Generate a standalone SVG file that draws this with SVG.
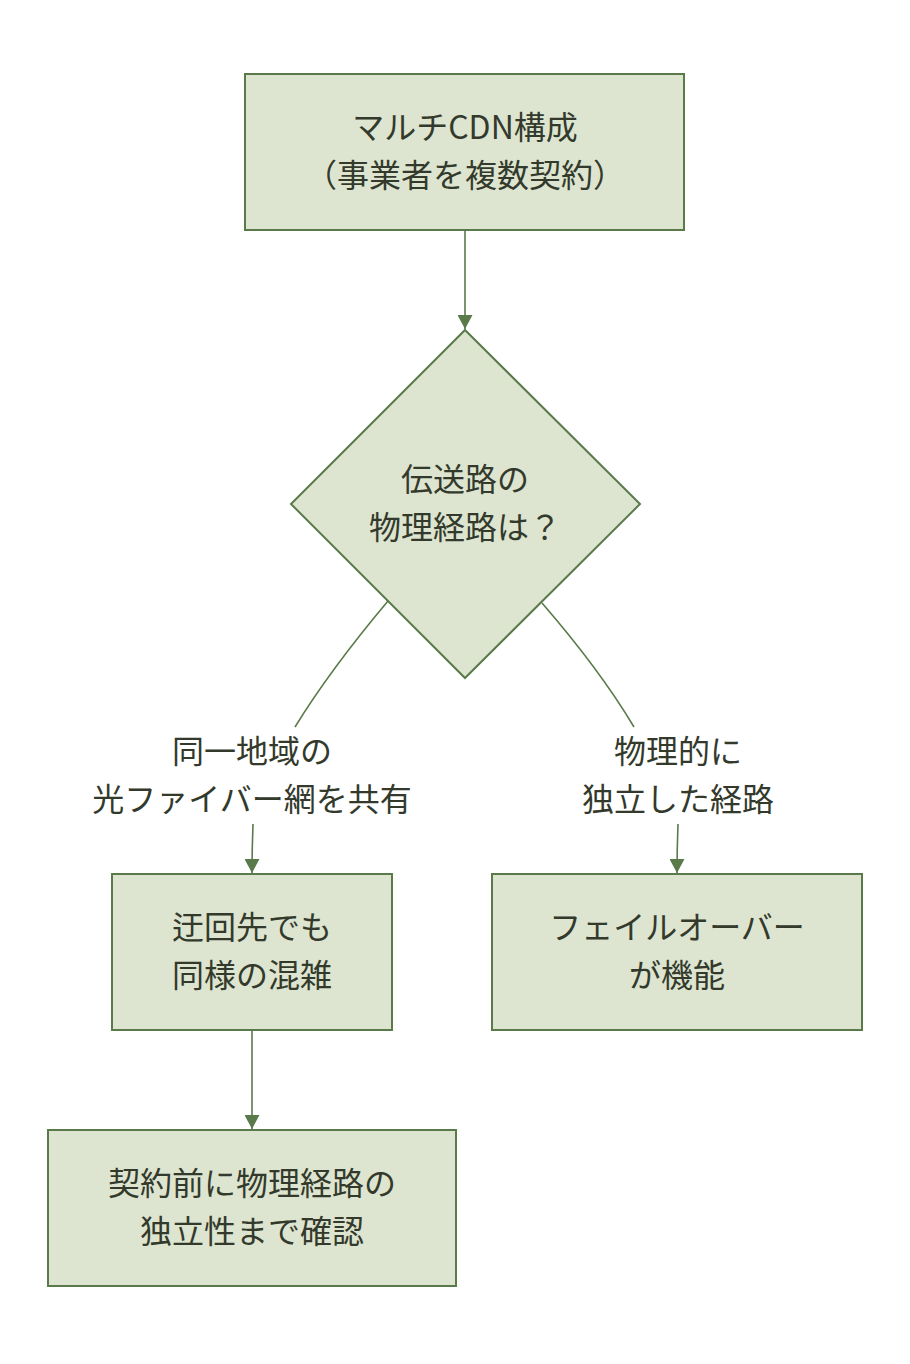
<svg xmlns="http://www.w3.org/2000/svg" width="910" height="1364" viewBox="0 0 910 1364">
<style>
.node{fill:#dde5d0;stroke:#5a7a4a;stroke-width:2}
.edge{fill:none;stroke:#5a7a4a;stroke-width:1.6}
text{font-family:"Noto Sans CJK JP","Noto Sans",sans-serif;font-size:32px;fill:#333a2c;text-anchor:middle}
</style>
<defs>
<marker id="arr" viewBox="0 0 14 15" refX="14" refY="7.5" markerWidth="14" markerHeight="15" markerUnits="userSpaceOnUse" orient="auto">
<path d="M0,0 L14,7.5 L0,15 z" fill="#5a7a4a"/>
</marker>
</defs>
<rect width="910" height="1364" fill="#ffffff"/>
<g id="connectors">
<path class="edge" d="M465,231 L465,329" marker-end="url(#arr)"/>
<path class="edge" d="M388,601 Q330,670 295,727"/>
<path class="edge" d="M253,824 Q252,850 252,873" marker-end="url(#arr)"/>
<path class="edge" d="M542,603 Q600,670 634,727"/>
<path class="edge" d="M678,824 Q677,850 677,873" marker-end="url(#arr)"/>
<path class="edge" d="M252,1031 L252,1129" marker-end="url(#arr)"/>
<text x="252" y="763">同一地域の</text>
<text x="252" y="811">光ファイバー網を共有</text>
<text x="678" y="763">物理的に</text>
<text x="678" y="811">独立した経路</text>
</g>
<g id="n1">
<rect class="node" x="245" y="74" width="439" height="156"/>
<text x="465" y="139">マルチCDN構成</text>
<text x="465" y="187">（事業者を複数契約）</text>
</g>
<g id="n2">
<polygon class="node" points="465,330 640,504 465,678 291,504"/>
<text x="465" y="491">伝送路の</text>
<text x="465" y="539">物理経路は？</text>
</g>
<g id="n3">
<rect class="node" x="112" y="874" width="280" height="156"/>
<text x="252" y="939">迂回先でも</text>
<text x="252" y="987">同様の混雑</text>
</g>
<g id="n4">
<rect class="node" x="492" y="874" width="370" height="156"/>
<text x="677" y="939">フェイルオーバー</text>
<text x="677" y="987">が機能</text>
</g>
<g id="n5">
<rect class="node" x="48" y="1130" width="408" height="156"/>
<text x="252" y="1195">契約前に物理経路の</text>
<text x="252" y="1243">独立性まで確認</text>
</g>
</svg>
